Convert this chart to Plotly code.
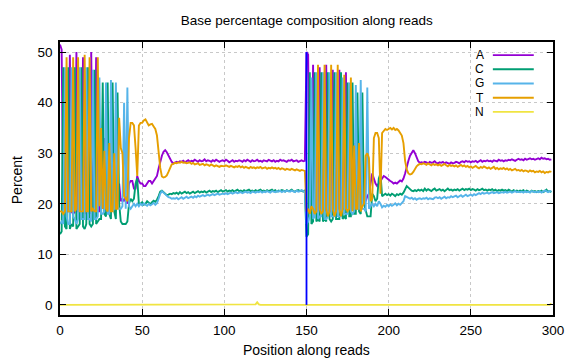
import plotly.graph_objects as go

# Positions along reads (read 1: 0-149, read 2: 150-299)
positions = list(range(300))

A = [
    # read 1
    51.5, 50.5, 19.0, 19.0, 18.5, 18.5, 49.5, 18.5, 18.0, 18.5,
    50.0, 18.5, 18.5, 18.5, 49.0, 18.0, 18.5, 18.5, 18.0, 50.0,
    18.5, 18.5, 49.0, 18.5, 18.5, 30.0, 19.0, 33.0, 19.5, 19.5,
    32.0, 20.0, 20.0, 21.0, 20.0, 20.5, 24.0, 20.5, 21.0, 20.5,
    21.5, 20.0, 24.0, 24.5, 24.5, 23.0, 23.0, 25.5, 24.5, 24.0,
    24.0, 23.5, 23.5, 24.0, 24.5, 24.5, 24.0, 24.5, 25.0, 25.5,
    27.0, 28.5, 29.5, 30.3, 30.6, 30.2, 29.5, 28.8, 28.3, 28.0,
    28.1, 28.3, 28.2, 28.4, 28.3, 28.5, 28.2, 28.4, 28.6, 28.3,
    28.5, 28.4, 28.7, 28.5, 28.3, 28.6, 28.4, 28.5, 28.8, 28.4,
    28.6, 28.5, 28.3, 28.6, 28.4, 28.7, 28.5, 28.3, 28.5, 28.6,
    28.4, 28.7, 28.5, 28.2, 28.4, 28.6, 28.3, 28.5, 28.4, 28.6,
    28.5, 28.3, 28.6, 28.4, 28.7, 28.5, 28.3, 28.6, 28.4, 28.5,
    28.7, 28.4, 28.5, 28.3, 28.6, 28.5, 28.4, 28.7, 28.5, 28.4,
    28.6, 28.3, 28.5, 28.4, 28.7, 28.5, 28.6, 28.4, 28.3, 28.6,
    28.5, 28.7, 28.4, 28.5, 28.6, 28.3, 28.5, 28.6, 28.4, 28.5,
    # read 2
    50.0, 49.5, 18.5, 18.5, 47.5, 18.5, 19.0, 18.5, 47.0, 18.5,
    19.0, 18.5, 47.5, 19.0, 18.5, 18.5, 46.5, 19.0, 18.5, 19.0,
    46.5, 19.0, 19.0, 19.0, 46.0, 19.5, 19.5, 19.0, 19.5, 32.0,
    19.5, 20.0, 30.0, 20.0, 20.5, 21.0, 20.5, 21.5, 22.0, 24.0,
    26.0, 25.0, 24.0, 23.5, 24.0, 24.5, 25.0, 25.5, 25.3, 25.0,
    24.8, 24.5, 24.3, 24.0, 24.2, 24.0, 24.3, 24.6, 24.4, 25.0,
    26.0, 27.5, 28.5, 29.5, 30.2, 30.6, 30.0, 29.0, 28.4, 28.1,
    28.2, 28.1, 28.3, 28.2, 28.0, 28.3, 28.1, 28.2, 28.4, 28.1,
    28.0, 28.2, 28.1, 28.3, 28.0, 28.2, 28.1, 27.9, 28.2, 28.0,
    28.1, 28.3, 28.2, 28.0, 28.3, 28.4, 28.2, 28.5, 28.3, 28.4,
    28.2, 28.4, 28.3, 28.5, 28.2, 28.4, 28.6, 28.3, 28.5, 28.4,
    28.6, 28.4, 28.5, 28.3, 28.6, 28.5, 28.4, 28.7, 28.5, 28.6,
    28.4, 28.6, 28.5, 28.7, 28.6, 28.8, 28.6, 28.5, 28.7, 28.9,
    28.7, 28.8, 28.6, 28.9, 28.7, 28.8, 29.0, 28.8, 28.9, 28.7,
    28.9, 29.0, 28.8, 29.1, 28.9, 29.0, 28.8, 28.9, 28.7, 28.8,
]

C = [
    # read 1
    14.0, 14.5, 47.0, 15.5, 15.0, 47.0, 15.0, 16.0, 15.5, 47.0,
    15.0, 15.5, 16.0, 47.0, 15.5, 15.0, 16.0, 47.0, 16.0, 15.5,
    16.0, 46.5, 16.0, 16.5, 17.0, 17.0, 44.0, 18.0, 17.5, 44.0,
    18.0, 17.0, 44.0, 18.5, 17.0, 42.0, 20.0, 16.5, 16.0, 16.0,
    16.0, 16.5, 20.0, 21.0, 20.5, 21.0, 24.0, 25.0, 20.0, 20.0,
    20.3, 19.8, 20.0, 20.5, 20.2, 19.9, 20.3, 20.6, 20.4, 20.8,
    21.5, 22.4, 22.6, 22.3, 21.9, 21.7, 21.8, 22.0, 21.9, 22.1,
    22.0, 22.2, 21.9, 22.3, 22.0, 22.2, 22.4, 22.1, 22.3, 22.0,
    22.2, 22.4, 22.1, 22.3, 22.5, 22.2, 22.4, 22.3, 22.5, 22.2,
    22.4, 22.6, 22.3, 22.5, 22.4, 22.6, 22.3, 22.5, 22.7, 22.4,
    22.5, 22.7, 22.4, 22.6, 22.5, 22.7, 22.4, 22.6, 22.8, 22.5,
    22.6, 22.4, 22.7, 22.5, 22.6, 22.8, 22.5, 22.6, 22.4, 22.7,
    22.5, 22.6, 22.8, 22.5, 22.6, 22.4, 22.7, 22.5, 22.6, 22.8,
    22.5, 22.7, 22.4, 22.6, 22.5, 22.7, 22.6, 22.4, 22.7, 22.5,
    22.6, 22.8, 22.5, 22.4, 22.6, 22.7, 22.5, 22.6, 22.4, 22.7,
    # read 2
    13.5, 14.0, 46.0, 16.0, 16.5, 46.0, 16.5, 17.0, 16.5, 46.0,
    16.5, 17.0, 16.5, 46.0, 17.0, 16.5, 17.0, 46.0, 17.0, 17.0,
    17.0, 46.0, 17.0, 17.5, 17.0, 44.0, 17.5, 17.5, 44.0, 18.0,
    18.0, 42.0, 18.5, 18.0, 42.0, 20.0, 18.5, 17.5, 17.5, 17.5,
    22.0, 21.5, 20.5, 21.0, 25.0, 26.0, 21.5, 21.8, 22.0, 21.7,
    21.9, 21.6, 22.0, 21.8, 21.5, 21.9, 21.7, 22.0, 21.8, 22.2,
    23.0, 23.5, 23.2, 22.9, 22.6, 22.5, 22.7, 22.5, 22.8, 22.6,
    22.8, 22.5, 23.0, 22.6, 22.9, 22.7, 22.5, 22.8, 23.0, 22.6,
    22.7, 22.9, 22.6, 22.8, 22.5, 22.7, 23.0, 22.7, 22.8, 22.6,
    22.8, 22.7, 22.9, 22.6, 22.8, 23.0, 22.7, 22.9, 22.8, 23.0,
    22.7, 22.9, 22.8, 22.6, 22.9, 22.7, 22.8, 23.0, 22.7, 22.8,
    22.6, 22.8, 22.7, 22.9, 22.6, 22.8, 22.5, 22.7, 22.6, 22.8,
    22.6, 22.7, 22.5, 22.8, 22.6, 22.4, 22.7, 22.5, 22.6, 22.4,
    22.6, 22.5, 22.7, 22.4, 22.6, 22.5, 22.3, 22.6, 22.4, 22.5,
    22.3, 22.5, 22.4, 22.6, 22.3, 22.5, 22.8, 22.4, 22.5, 22.3,
]

G = [
    # read 1
    16.0, 16.5, 16.0, 47.0, 17.5, 16.0, 16.0, 47.0, 17.5, 17.0,
    16.0, 17.0, 47.0, 17.0, 17.0, 17.0, 47.0, 17.0, 17.0, 16.5,
    46.5, 17.0, 17.0, 17.5, 45.0, 18.0, 18.0, 18.5, 44.0, 18.0,
    18.0, 44.5, 18.5, 19.0, 44.0, 19.5, 19.0, 19.0, 19.5, 40.0,
    19.0, 43.0, 19.5, 19.0, 19.5, 20.0, 19.5, 20.0, 19.5, 20.0,
    19.7, 20.1, 19.8, 19.6, 20.0, 19.7, 19.9, 20.2, 19.8, 20.1,
    21.0, 22.0, 22.5, 22.2, 21.8, 21.5, 21.3, 21.2, 21.0, 21.1,
    21.0, 21.2, 20.9, 21.1, 21.3, 21.0, 21.2, 21.4, 21.1, 21.3,
    21.4, 21.2, 21.5, 21.3, 21.6, 21.4, 21.5, 21.7, 21.5, 21.6,
    21.8, 21.6, 21.7, 21.9, 21.7, 21.8, 22.0, 21.8, 21.9, 22.0,
    21.9, 22.1, 21.9, 22.0, 22.2, 22.0, 22.1, 22.3, 22.1, 22.2,
    22.3, 22.1, 22.2, 22.4, 22.2, 22.3, 22.1, 22.4, 22.3, 22.2,
    22.4, 22.3, 22.5, 22.2, 22.4, 22.3, 22.5, 22.4, 22.2, 22.5,
    22.4, 22.3, 22.5, 22.4, 22.6, 22.3, 22.5, 22.4, 22.6, 22.5,
    22.4, 22.6, 22.5, 22.3, 22.6, 22.4, 22.5, 22.7, 22.5, 22.4,
    # read 2
    16.0, 16.5, 17.5, 45.0, 17.0, 17.5, 46.0, 17.0, 17.5, 17.5,
    46.0, 17.0, 17.0, 17.5, 46.0, 17.5, 17.5, 17.5, 46.0, 17.5,
    17.5, 17.5, 45.0, 18.0, 18.0, 18.0, 44.0, 18.5, 18.0, 18.5,
    43.5, 19.0, 19.0, 44.5, 19.0, 19.0, 18.5, 43.0, 19.0, 19.5,
    20.0, 19.5, 20.0, 19.5, 20.5, 20.0, 19.3, 19.6, 19.4, 19.8,
    19.5, 19.9, 19.6, 19.8, 20.1, 19.7, 20.0, 19.8, 20.2, 20.5,
    21.5, 21.3, 21.1, 21.0, 21.2, 20.9, 21.1, 20.8, 21.0, 21.1,
    20.9, 21.1, 21.0, 21.2, 20.9, 21.1, 21.0, 20.9, 21.2, 21.3,
    21.1, 21.3, 21.0, 21.2, 21.4, 21.1, 21.3, 21.2, 21.5, 21.3,
    21.4, 21.6, 21.3, 21.5, 21.7, 21.4, 21.6, 21.8, 21.5, 21.7,
    21.8, 21.6, 21.9, 21.7, 22.0, 22.1, 21.9, 22.2, 22.0, 22.1,
    22.2, 22.0, 22.1, 22.3, 22.1, 22.2, 22.3, 22.1, 22.2, 22.3,
    22.2, 22.4, 22.2, 22.3, 22.4, 22.2, 22.3, 22.5, 22.3, 22.4,
    22.3, 22.4, 22.2, 22.5, 22.3, 22.4, 22.2, 22.5, 22.4, 22.3,
    22.4, 22.3, 22.5, 22.2, 22.4, 22.6, 22.5, 22.3, 22.5, 22.4,
]

T = [
    # read 1
    18.5, 18.5, 18.0, 18.5, 49.0, 18.5, 18.5, 18.5, 49.0, 18.5,
    19.0, 49.0, 18.5, 18.5, 18.5, 49.5, 18.5, 18.5, 49.0, 18.5,
    19.0, 18.5, 18.5, 49.0, 19.5, 35.0, 19.0, 30.5, 19.0, 18.5,
    32.0, 18.5, 18.5, 30.0, 19.0, 19.0, 37.0, 31.0, 30.0, 21.5,
    21.0, 20.5, 33.0, 36.0, 36.0, 35.5, 31.0, 25.5, 35.5, 36.0,
    36.0, 36.5, 36.7, 36.0, 35.5, 35.7, 35.8, 35.3, 34.8, 33.5,
    30.0, 27.1, 25.4, 25.2, 25.3, 25.6, 26.3, 27.2, 27.8, 27.9,
    28.1, 28.0, 28.2, 28.1, 28.3, 28.1, 28.2, 28.0, 28.1, 28.2,
    27.9, 28.1, 27.8, 27.9, 28.0, 27.7, 27.8, 27.9, 27.6, 27.8,
    27.7, 27.5, 27.8, 27.6, 27.4, 27.6, 27.5, 27.3, 27.5, 27.4,
    27.4, 27.6, 27.5, 27.3, 27.5, 27.4, 27.2, 27.4, 27.3, 27.5,
    27.2, 27.4, 27.1, 27.3, 27.2, 27.0, 27.3, 27.1, 27.2, 27.0,
    27.2, 27.1, 27.3, 27.0, 27.1, 27.2, 26.9, 27.1, 27.0, 27.2,
    27.0, 27.1, 26.9, 27.1, 26.8, 27.0, 26.9, 26.7, 26.9, 26.8,
    26.7, 26.9, 26.8, 26.6, 26.8, 26.7, 26.5, 26.7, 26.6, 26.5,
    # read 2
    18.5, 19.0, 18.0, 19.5, 19.0, 18.0, 18.5, 47.5, 19.0, 18.0,
    18.5, 47.5, 19.0, 17.5, 18.5, 47.5, 19.0, 17.5, 18.5, 47.5,
    19.0, 17.5, 19.0, 45.5, 19.0, 18.5, 19.0, 45.0, 18.5, 31.5,
    19.0, 19.0, 32.0, 18.5, 19.5, 20.0, 29.5, 30.0, 29.0, 20.5,
    21.0, 33.0, 34.0, 34.0, 33.0, 22.0, 34.0, 34.5, 34.8, 34.6,
    34.9, 35.0, 34.7, 35.0, 34.6, 34.8, 34.5, 34.0, 33.5, 32.0,
    28.5, 26.8, 26.0, 25.8, 25.9, 26.3, 26.9, 27.4, 27.7, 27.9,
    27.8, 28.0, 27.9, 27.7, 28.0, 27.8, 27.6, 27.9, 27.7, 27.8,
    27.6, 27.8, 27.5, 27.7, 27.9, 27.6, 27.4, 27.7, 27.5, 27.6,
    27.4, 27.6, 27.3, 27.5, 27.7, 27.4, 27.6, 27.3, 27.5, 27.2,
    27.4, 27.1, 27.3, 27.5, 27.2, 27.0, 27.3, 27.1, 27.4, 27.2,
    27.0, 27.2, 26.9, 27.1, 27.3, 26.9, 27.1, 26.8, 27.0, 26.9,
    27.1, 26.8, 27.0, 26.7, 26.9, 26.6, 26.8, 26.9, 26.6, 26.7,
    26.5, 26.7, 26.4, 26.6, 26.5, 26.3, 26.6, 26.4, 26.5, 26.2,
    26.4, 26.3, 26.5, 26.2, 26.4, 26.1, 26.3, 26.2, 26.4, 26.3,
]

N = [
    0, 0, 0, 0, 0, 0, 0, 0, 0, 0, 0, 0, 0, 0, 0, 0, 0, 0, 0, 0,
    0, 0, 0, 0, 0, 0, 0, 0, 0, 0, 0, 0, 0, 0, 0, 0, 0, 0, 0, 0,
    0, 0, 0, 0, 0, 0, 0, 0, 0, 0, 0, 0, 0, 0, 0, 0, 0, 0, 0, 0,
    0, 0, 0, 0, 0, 0, 0, 0, 0, 0, 0, 0, 0, 0, 0, 0, 0, 0, 0, 0,
    0, 0, 0, 0, 0, 0, 0, 0, 0, 0, 0, 0, 0, 0, 0, 0, 0, 0, 0, 0,
    0, 0, 0, 0, 0, 0, 0, 0, 0, 0, 0, 0, 0, 0, 0, 0, 0, 0, 0, 0.1,
    0.5, 0.1, 0, 0, 0, 0, 0, 0, 0, 0, 0, 0, 0, 0, 0, 0, 0, 0, 0, 0,
    0, 0, 0, 0, 0, 0, 0, 0, 0, 0, 0, 0, 0, 0, 0, 0, 0, 0, 0, 0,
    0, 0, 0, 0, 0, 0, 0, 0, 0, 0, 0, 0, 0, 0, 0, 0, 0, 0, 0, 0,
    0, 0, 0, 0, 0, 0, 0, 0, 0, 0, 0, 0, 0, 0, 0, 0, 0, 0, 0, 0,
    0, 0, 0, 0, 0, 0, 0, 0, 0, 0, 0, 0, 0, 0, 0, 0, 0, 0, 0, 0,
    0, 0, 0, 0, 0, 0, 0, 0, 0, 0, 0, 0, 0, 0, 0, 0, 0, 0, 0, 0,
    0, 0, 0, 0, 0, 0, 0, 0, 0, 0, 0, 0, 0, 0, 0, 0, 0, 0, 0, 0,
    0, 0, 0, 0, 0, 0, 0, 0, 0, 0, 0, 0, 0, 0, 0, 0, 0, 0, 0, 0,
    0, 0, 0, 0, 0, 0, 0, 0, 0, 0, 0, 0, 0, 0, 0, 0, 0, 0, 0, 0.3,
]

# read boundary marker
boundary_x = [150, 150]
boundary_y = [0, 50]

series_names = ["A", "C", "G", "T", "N"]
series_values = [A, C, G, T, N]
colors = ["#9400d3", "#009e73", "#56b4e9", "#e69f00", "#f0e442"]

FONT = "Liberation Sans, Arial, sans-serif"

fig = go.Figure()
for name, vals, col in zip(series_names, series_values, colors):
    fig.add_trace(go.Scatter(x=positions, y=vals, mode="lines", name=name,
                             line=dict(color=col, width=1.9), showlegend=False))

fig.add_trace(go.Scatter(x=boundary_x, y=boundary_y, mode="lines",
                         line=dict(color="#0000ff", width=1.8), showlegend=False))

# gnuplot-style key: label right-aligned, sample line to the right
leg_y = [0.952, 0.900, 0.848, 0.796, 0.744]
annotations = []
shapes = []
for name, col, yy in zip(series_names, colors, leg_y):
    annotations.append(dict(x=0.862, y=yy, xref="paper", yref="paper", text=name,
                            showarrow=False, xanchor="right", yanchor="middle",
                            borderpad=0,
                            font=dict(family=FONT, size=12, color="black")))
    shapes.append(dict(type="line", xref="paper", yref="paper", x0=0.878, x1=0.961,
                       y0=yy, y1=yy, line=dict(color=col, width=1.9)))

# axis titles placed as annotations (gnuplot-like positions)
annotations.append(dict(x=-0.087, y=0.494, xref="paper", yref="paper", text="Percent",
                        showarrow=False, textangle=-90, xanchor="center", yanchor="middle",
                        font=dict(family=FONT, size=14, color="black")))
annotations.append(dict(x=0.499, y=-0.128, xref="paper", yref="paper",
                        text="Position along reads", showarrow=False,
                        xanchor="center", yanchor="middle",
                        font=dict(family=FONT, size=14, color="black")))

axis_common = dict(
    showline=True, linecolor="black", linewidth=1.5, mirror="allticks",
    ticks="inside", ticklen=6, tickcolor="black", tickwidth=1,
    showgrid=True, gridcolor="#c8c8c8", griddash="dot", gridwidth=1,
    zeroline=False, automargin=False,
    tickfont=dict(family=FONT, size=13.5, color="black"),
)

# page body has an 8px margin, so the figure is sized 568x352 to fill 576x360
fig.update_layout(
    width=568, height=352, autosize=False,
    margin=dict(l=52, r=23, t=34, b=45),
    paper_bgcolor="white", plot_bgcolor="white",
    title=dict(text="Base percentage composition along reads", x=0.526, xanchor="center",
               y=0.966, yanchor="middle", font=dict(family=FONT, size=13.5, color="black")),
    xaxis=dict(range=[0, 300], tickvals=[0, 50, 100, 150, 200, 250, 300],
               ticklabelstandoff=2, **axis_common),
    yaxis=dict(range=[-2, 52], tickvals=[0, 10, 20, 30, 40, 50],
               ticklabelstandoff=3, **axis_common),
    annotations=annotations,
    shapes=shapes,
)

fig.write_html("out.html")
